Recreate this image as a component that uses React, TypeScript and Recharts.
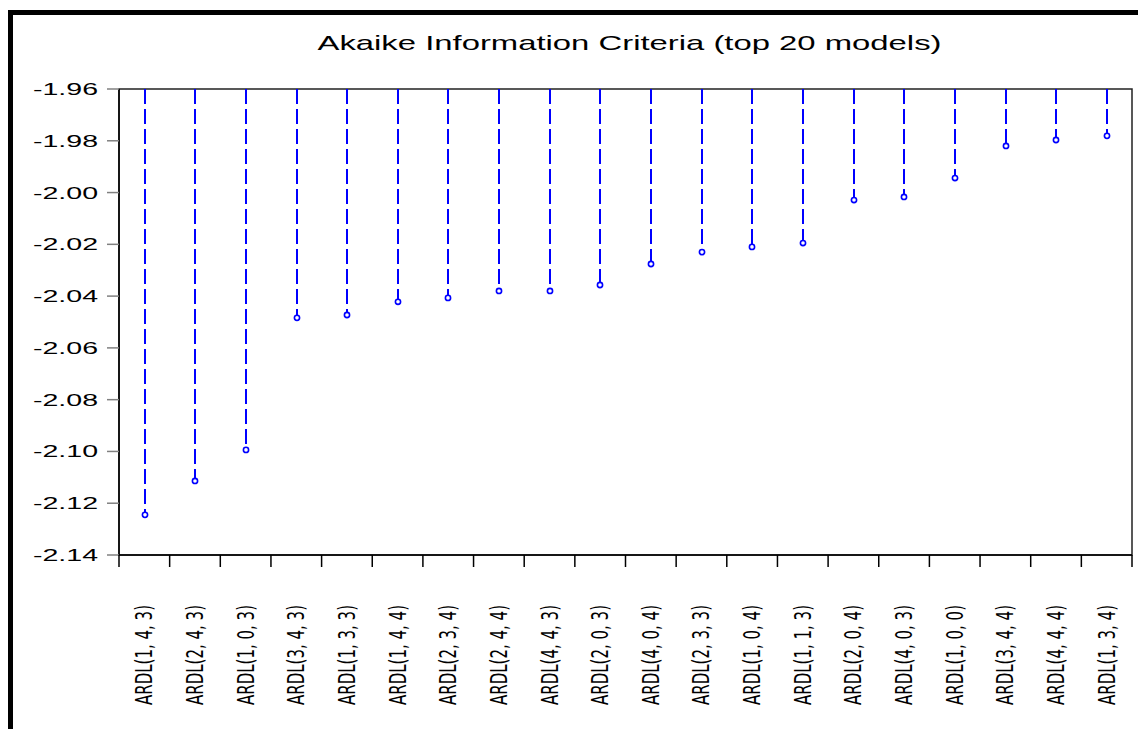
import React from "react";
import {
  ComposedChart,
  Bar,
  XAxis,
  YAxis,
  ReferenceArea,
} from "recharts";

const models: string[] = [
  "ARDL(1, 4, 3)",
  "ARDL(2, 4, 3)",
  "ARDL(1, 0, 3)",
  "ARDL(3, 4, 3)",
  "ARDL(1, 3, 3)",
  "ARDL(1, 4, 4)",
  "ARDL(2, 3, 4)",
  "ARDL(2, 4, 4)",
  "ARDL(4, 4, 3)",
  "ARDL(2, 0, 3)",
  "ARDL(4, 0, 4)",
  "ARDL(2, 3, 3)",
  "ARDL(1, 0, 4)",
  "ARDL(1, 1, 3)",
  "ARDL(2, 0, 4)",
  "ARDL(4, 0, 3)",
  "ARDL(1, 0, 0)",
  "ARDL(3, 4, 4)",
  "ARDL(4, 4, 4)",
  "ARDL(1, 3, 4)",
];

const aic: number[] = [
  -2.1245, -2.1114, -2.0994, -2.0484, -2.0473, -2.0422, -2.0407, -2.038,
  -2.038, -2.0357, -2.0276, -2.023, -2.021, -2.0195, -2.0029, -2.0017,
  -1.9944, -1.982, -1.9797, -1.9781,
];

const yTicks: number[] = [
  -1.96, -1.98, -2.0, -2.02, -2.04, -2.06, -2.08, -2.1, -2.12, -2.14,
];

const title = "Akaike Information Criteria (top 20 models)";

const data = models.map((name, i) => ({ name, aic: aic[i] }));

const W = 1138;
const H = 721;
const LEFT = 111;
const RIGHT = 14;
const TOP = 81;
const XH = 174;
const band = (W - LEFT - RIGHT) / models.length;

const Stem = (props: any) => {
  const { x, y, width, height } = props;
  const cx = Math.round(x + width / 2);
  const top = Math.min(y, y + height);
  const bottom = Math.max(y, y + height);
  return (
    <g>
      <line
        x1={cx}
        y1={top}
        x2={cx}
        y2={bottom - 2.5}
        stroke="#0000ff"
        strokeWidth={2}
        strokeDasharray="15 5"
      />
      <circle cx={cx} cy={bottom} r={2.6} fill="#fff" stroke="#0000ff" strokeWidth={1.6} />
    </g>
  );
};

const XTick = (props: any) => {
  const { x, y, payload, index } = props;
  const left = x - band / 2;
  return (
    <g>
      <line x1={left} y1={y} x2={left} y2={y + 12} stroke="#000" strokeWidth={1.5} />
      {index === models.length - 1 && (
        <line x1={x + band / 2} y1={y} x2={x + band / 2} y2={y + 12} stroke="#000" strokeWidth={1.5} />
      )}
      <text
        x={0}
        y={0}
        transform={`translate(${x + 8}, ${y + 150}) rotate(-90)`}
        textAnchor="start"
        fontSize={23}
        fontFamily="'Liberation Sans Narrow', 'DejaVu Sans Condensed', sans-serif"
        fill="#000"
        textLength={100}
        lengthAdjust="spacingAndGlyphs"
      >
        {payload.value}
      </text>
    </g>
  );
};

const YTick = (props: any) => {
  const { x, y, payload } = props;
  return (
    <text
      x={x}
      y={y + 6}
      textAnchor="end"
      fontSize={17}
      fontFamily="'Liberation Sans', Arial, sans-serif"
      fill="#000"
      textLength={65}
      lengthAdjust="spacingAndGlyphs"
    >
      {payload.value.toFixed(2)}
    </text>
  );
};

export default function App() {
  return (
    <div style={{ position: "relative", width: W, height: H, overflow: "hidden", background: "#fff" }}>
      <div
        style={{
          position: "absolute",
          left: -1,
          top: 2,
          width: 2000,
          height: 2000,
          borderTop: "5px solid #000",
          borderLeft: "6px solid #000",
        }}
      />
      <svg style={{ position: "absolute", left: 0, top: 0 }} width={W} height={H}>
        <text
          x={621.5}
          y={42}
          textAnchor="middle"
          fontSize={21}
          fontFamily="'Liberation Sans', Arial, sans-serif"
          fill="#000"
          textLength={624}
          lengthAdjust="spacingAndGlyphs"
        >
          {title}
        </text>
      </svg>
      <div style={{ position: "absolute", left: 0, top: 0 }}>
        <ComposedChart
          width={W}
          height={H}
          data={data}
          margin={{ top: TOP, right: RIGHT, left: 0, bottom: 0 }}
        >
          <XAxis
            dataKey="name"
            interval={0}
            height={XH}
            tickLine={false}
            tickSize={0}
            tickMargin={0}
            axisLine={{ stroke: "#000", strokeWidth: 1.5 }}
            tick={<XTick />}
          />
          <YAxis
            width={LEFT}
            domain={[-2.14, -1.96]}
            ticks={yTicks}
            interval={0}
            tickSize={12}
            tickMargin={9}
            tickLine={{ stroke: "#808080", strokeWidth: 1.5 }}
            axisLine={{ stroke: "#000", strokeWidth: 1.5 }}
            tick={<YTick />}
          />
          <ReferenceArea
            x1={models[0]}
            x2={models[models.length - 1]}
            y1={-2.14}
            y2={-1.96}
            fill="none"
            fillOpacity={0}
            stroke="#222"
            strokeWidth={1.5}
          />
          <Bar dataKey="aic" shape={<Stem />} isAnimationActive={false} />
        </ComposedChart>
      </div>
    </div>
  );
}
